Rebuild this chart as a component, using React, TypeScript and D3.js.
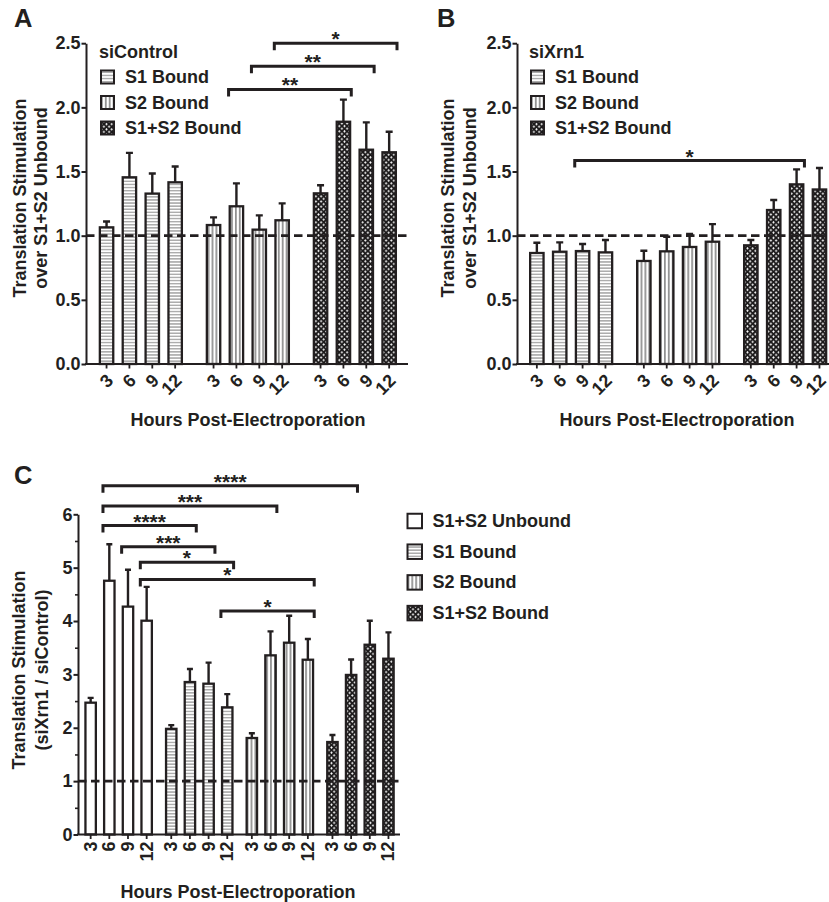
import React, { useEffect, useRef } from 'react';
import * as d3 from 'd3';

const hours = ['3', '6', '9', '12'];

// A: siControl, bound / unbound
const ctrlS1 = [1.065, 1.455, 1.328, 1.416];
const ctrlS1Err = [0.045, 0.19, 0.156, 0.123];
const ctrlS2 = [1.083, 1.229, 1.047, 1.12];
const ctrlS2Err = [0.06, 0.179, 0.111, 0.132];
const ctrlS12 = [1.33, 1.888, 1.67, 1.65];
const ctrlS12Err = [0.063, 0.172, 0.213, 0.16];

// B: siXrn1, bound / unbound
const xrnS1 = [0.865, 0.875, 0.88, 0.87];
const xrnS1Err = [0.08, 0.073, 0.055, 0.096];
const xrnS2 = [0.803, 0.878, 0.912, 0.953];
const xrnS2Err = [0.08, 0.114, 0.101, 0.137];
const xrnS12 = [0.925, 1.2, 1.4, 1.36];
const xrnS12Err = [0.041, 0.078, 0.117, 0.167];

// C: siXrn1 / siControl
const ratioUnb = [2.47, 4.755, 4.27, 4.006];
const ratioUnbErr = [0.09, 0.685, 0.69, 0.634];
const ratioS1 = [1.98, 2.857, 2.826, 2.383];
const ratioS1Err = [0.07, 0.243, 0.394, 0.247];
const ratioS2 = [1.808, 3.357, 3.594, 3.275];
const ratioS2Err = [0.088, 0.45, 0.506, 0.388];
const ratioS12 = [1.733, 2.99, 3.556, 3.294];
const ratioS12Err = [0.131, 0.29, 0.45, 0.494];

const legendAB = ['S1 Bound', 'S2 Bound', 'S1+S2 Bound'];
const legendC = ['S1+S2 Unbound', 'S1 Bound', 'S2 Bound', 'S1+S2 Bound'];

// [group1, bar1, group2, bar2, level, stars]
const bracketsA = [[1, 1, 2, 1, 2.14, '**'], [1, 2, 2, 2, 2.32, '**'], [1, 3, 2, 3, 2.5, '*']];
const bracketsB = [[0, 2, 2, 2, 1.585, '*']];
const bracketsC = [
  [0, 1, 3, 1, 6.535, '****'],
  [0, 1, 2, 1, 6.155, '***'],
  [0, 1, 1, 1, 5.79, '****'],
  [0, 2, 1, 2, 5.39, '***'],
  [0, 3, 1, 3, 5.1, '*'],
  [0, 3, 2, 3, 4.78, '*'],
  [1, 3, 2, 3, 4.19, '*'],
];

const INK = '#231f20';
const FONT = '"Liberation Sans", Arial, Helvetica, sans-serif';

function drawPanel(svg, p) {
  const g = svg.append('g');
  const y = d3.scaleLinear().domain([0, p.yMax]).range([p.zeroY, p.topY]);
  const slot = d3.scaleLinear().domain([0, 1]).range([p.firstBar, p.firstBar + p.pitch]);
  const left = (gi, i) => slot(gi * p.groupStep + i);

  const bars = p.groups.flatMap((grp, gi) =>
    grp.mean.map((m, i) => ({ gi, i, m, e: grp.err[i], fill: grp.fill })));

  g.selectAll('.bar').data(bars).join('rect')
    .attr('class', 'bar')
    .attr('x', d => left(d.gi, d.i))
    .attr('y', d => y(d.m))
    .attr('width', p.barW)
    .attr('height', d => p.zeroY - y(d.m))
    .attr('fill', d => d.fill)
    .attr('stroke', INK)
    .attr('stroke-width', 2.3);

  g.selectAll('.err').data(bars).join('path')
    .attr('class', 'err')
    .attr('d', d => {
      const cx = left(d.gi, d.i) + p.barW / 2;
      const t = y(d.m + d.e);
      return `M${cx},${y(d.m)}V${t}M${cx - p.cap},${t}H${cx + p.cap}`;
    })
    .attr('fill', 'none')
    .attr('stroke', INK)
    .attr('stroke-width', 2.4);

  // dashed reference at 1
  g.append('line')
    .attr('x1', p.axisX).attr('x2', p.axisEnd)
    .attr('y1', y(1)).attr('y2', y(1))
    .attr('stroke', INK).attr('stroke-width', 2.8)
    .attr('stroke-dasharray', '8.5,4.5');

  // y axis
  const yAxis = g.append('g')
    .attr('transform', `translate(${p.axisX},0)`)
    .call(d3.axisLeft(y).tickValues(p.yTicks).tickFormat(p.fmt).tickSize(4.5).tickSizeOuter(0).tickPadding(1));
  if (p.yMinor) {
    g.append('g')
      .attr('transform', `translate(${p.axisX},0)`)
      .call(d3.axisLeft(y).tickValues(p.yMinor).tickFormat(() => '').tickSize(3).tickSizeOuter(0))
      .call(a => a.select('.domain').remove())
      .selectAll('line').attr('stroke', INK).attr('stroke-width', 1.6);
  }
  yAxis.select('.domain').attr('stroke', INK).attr('stroke-width', 2);
  yAxis.selectAll('line').attr('stroke', INK).attr('stroke-width', 2);
  yAxis.selectAll('text')
    .attr('font-size', 18).attr('font-weight', 'bold').attr('font-family', FONT).attr('fill', INK);

  // x axis
  g.append('line')
    .attr('x1', p.axisX - 1).attr('x2', p.axisEnd)
    .attr('y1', p.zeroY).attr('y2', p.zeroY)
    .attr('stroke', INK).attr('stroke-width', 2);
  g.selectAll('.xtick').data(bars).join('line')
    .attr('class', 'xtick')
    .attr('x1', d => left(d.gi, d.i) + p.barW / 2)
    .attr('x2', d => left(d.gi, d.i) + p.barW / 2)
    .attr('y1', p.zeroY).attr('y2', p.zeroY + 4.5)
    .attr('stroke', INK).attr('stroke-width', 1.8);
  g.selectAll('.xlab').data(bars).join('text')
    .attr('class', 'xlab')
    .attr('transform', d => {
      const cx = left(d.gi, d.i) + p.barW / 2;
      return p.diag
        ? `translate(${cx + 3.5},${p.zeroY + 13.5}) rotate(-45)`
        : `translate(${cx},${p.zeroY + 7}) rotate(-90)`;
    })
    .attr('text-anchor', 'end')
    .attr('dominant-baseline', 'central')
    .attr('font-size', 18).attr('font-weight', 'bold').attr('font-family', FONT).attr('fill', INK)
    .text(d => hours[d.i]);

  // titles
  g.selectAll('.ytitle').data(p.yTitle).join('text')
    .attr('class', 'ytitle')
    .attr('transform', (d, i) => `translate(${p.yTitleX[i]},${p.yTitleY}) rotate(-90)`)
    .attr('text-anchor', 'middle')
    .attr('dominant-baseline', 'central')
    .attr('font-size', 18).attr('font-weight', 'bold').attr('font-family', FONT).attr('fill', INK)
    .text(d => d);
  g.append('text')
    .attr('x', p.xTitleX).attr('y', p.xTitleY)
    .attr('text-anchor', 'middle')
    .attr('font-size', 18).attr('font-weight', 'bold').attr('font-family', FONT).attr('fill', INK)
    .text('Hours Post-Electroporation');
  g.append('text')
    .attr('x', p.labelX).attr('y', p.labelY)
    .attr('font-size', 25.5).attr('font-weight', 'bold').attr('font-family', FONT).attr('fill', INK)
    .text(p.label);

  // significance brackets
  const br = g.selectAll('.br').data(p.brackets).join('g').attr('class', 'br');
  br.append('path')
    .attr('d', d => {
      const x1 = left(d[0], d[1]) - 1.15;
      const x2 = left(d[2], d[3]) + p.barW + 1.15;
      const by = y(d[4]);
      return `M${x1},${by + 7}V${by}H${x2}V${by + 7}`;
    })
    .attr('fill', 'none').attr('stroke', INK).attr('stroke-width', 3);
  br.append('text')
    .attr('x', d => (left(d[0], d[1]) + left(d[2], d[3]) + p.barW) / 2)
    .attr('y', d => y(d[4]) + 3)
    .attr('text-anchor', 'middle')
    .attr('font-size', 21).attr('font-weight', 'bold').attr('font-family', FONT).attr('fill', INK)
    .text(d => d[5]);

  // legend
  const lg = g.append('g');
  if (p.legendTitle) {
    lg.append('text')
      .attr('x', p.legX - 1).attr('y', p.legTitleY)
      .attr('dominant-baseline', 'central')
      .attr('font-size', 18).attr('font-weight', 'bold').attr('font-family', FONT).attr('fill', INK)
      .text(p.legendTitle);
  }
  const row = lg.selectAll('.lrow').data(p.legend).join('g').attr('class', 'lrow')
    .attr('transform', (d, i) => `translate(${p.legX},${p.legY0 + i * p.legStep})`);
  row.append('rect')
    .attr('x', 1).attr('y', -p.sw / 2 + 1)
    .attr('width', p.sw - 2).attr('height', p.sw - 2)
    .attr('fill', (d, i) => p.legendFills[i])
    .attr('stroke', INK).attr('stroke-width', 2);
  row.append('text')
    .attr('x', p.legTextDx).attr('y', 0)
    .attr('dominant-baseline', 'central')
    .attr('font-size', 18).attr('font-weight', 'bold').attr('font-family', FONT).attr('fill', INK)
    .text(d => d);
}

function App() {
  const ref = useRef(null);

  useEffect(() => {
    const svg = d3.select(ref.current);
    svg.selectAll('*').remove();

    const defs = svg.append('defs');
    const h = defs.append('pattern').attr('id', 'hstripe')
      .attr('patternUnits', 'userSpaceOnUse').attr('width', 4).attr('height', 3.1);
    h.append('rect').attr('width', 4).attr('height', 3.1).attr('fill', '#fff');
    h.append('rect').attr('y', 1).attr('width', 4).attr('height', 1.1).attr('fill', '#8c8c8c');

    const v = defs.append('pattern').attr('id', 'vstripe')
      .attr('patternUnits', 'userSpaceOnUse').attr('width', 3.9).attr('height', 4);
    v.append('rect').attr('width', 3.9).attr('height', 4).attr('fill', '#fff');
    v.append('rect').attr('x', 1.4).attr('width', 1).attr('height', 4).attr('fill', '#3a3a3a');

    const c = defs.append('pattern').attr('id', 'cross')
      .attr('patternUnits', 'userSpaceOnUse').attr('width', 5.2).attr('height', 5.2);
    c.append('rect').attr('width', 5.2).attr('height', 5.2).attr('fill', '#1c1a1b');
    c.append('path')
      .attr('d', 'M1.3,0.1L2.5,1.3L1.3,2.5L0.1,1.3Z M3.9,2.7L5.1,3.9L3.9,5.1L2.7,3.9Z')
      .attr('fill', '#fff');

    const fillsAB = ['url(#hstripe)', 'url(#vstripe)', 'url(#cross)'];
    const fillsC = ['#fff', 'url(#hstripe)', 'url(#vstripe)', 'url(#cross)'];

    const common = {
      yMax: 2.5, zeroY: 364, topY: 43.2,
      yTicks: [0, 0.5, 1, 1.5, 2, 2.5], fmt: d3.format('.1f'),
      pitch: 22.87, groupStep: 107 / 22.87, barW: 13.4, cap: 3.5, diag: true,
      yTitle: ['Translation Stimulation', 'over S1+S2 Unbound'], yTitleY: 198,
      xTitleY: 426, legend: legendAB, legendFills: fillsAB, legY0: 77, legStep: 25.5,
      sw: 15, legTextDx: 25, legTitleY: 52, labelY: 27,
    };

    drawPanel(svg, {
      ...common,
      axisX: 86, axisEnd: 408, firstBar: 99.85,
      groups: [
        { mean: ctrlS1, err: ctrlS1Err, fill: fillsAB[0] },
        { mean: ctrlS2, err: ctrlS2Err, fill: fillsAB[1] },
        { mean: ctrlS12, err: ctrlS12Err, fill: fillsAB[2] },
      ],
      brackets: bracketsA,
      yTitleX: [19.5, 41], xTitleX: 248,
      legendTitle: 'siControl', legX: 100, label: 'A', labelX: 14,
    });

    drawPanel(svg, {
      ...common,
      axisX: 517, axisEnd: 829, firstBar: 530.15,
      groups: [
        { mean: xrnS1, err: xrnS1Err, fill: fillsAB[0] },
        { mean: xrnS2, err: xrnS2Err, fill: fillsAB[1] },
        { mean: xrnS12, err: xrnS12Err, fill: fillsAB[2] },
      ],
      brackets: bracketsB,
      yTitleX: [448, 470], xTitleX: 677,
      legendTitle: 'siXrn1', legX: 530, label: 'B', labelX: 437,
    });

    drawPanel(svg, {
      yMax: 6, zeroY: 834.5, topY: 514.3,
      yTicks: [0, 1, 2, 3, 4, 5, 6], yMinor: [0.5, 1.5, 2.5, 3.5, 4.5, 5.5], fmt: d3.format('d'),
      axisX: 78, axisEnd: 400, firstBar: 85.45,
      pitch: 18.67, groupStep: 80.6 / 18.67, barW: 10.4, cap: 3, diag: false,
      groups: [
        { mean: ratioUnb, err: ratioUnbErr, fill: fillsC[0] },
        { mean: ratioS1, err: ratioS1Err, fill: fillsC[1] },
        { mean: ratioS2, err: ratioS2Err, fill: fillsC[2] },
        { mean: ratioS12, err: ratioS12Err, fill: fillsC[3] },
      ],
      brackets: bracketsC,
      yTitle: ['Translation Stimulation', '(siXrn1 / siControl)'], yTitleX: [19, 42], yTitleY: 670,
      xTitleX: 238, xTitleY: 898,
      legend: legendC, legendFills: fillsC, legX: 406.5, legY0: 521, legStep: 30.7,
      sw: 16.5, legTextDx: 26, label: 'C', labelX: 14, labelY: 483.5,
    });
  }, []);

  return (
    <svg ref={ref} width={829} height={902}
      style={{ position: 'absolute', left: 0, top: 0, background: '#fff' }} />
  );
}

export default App;
